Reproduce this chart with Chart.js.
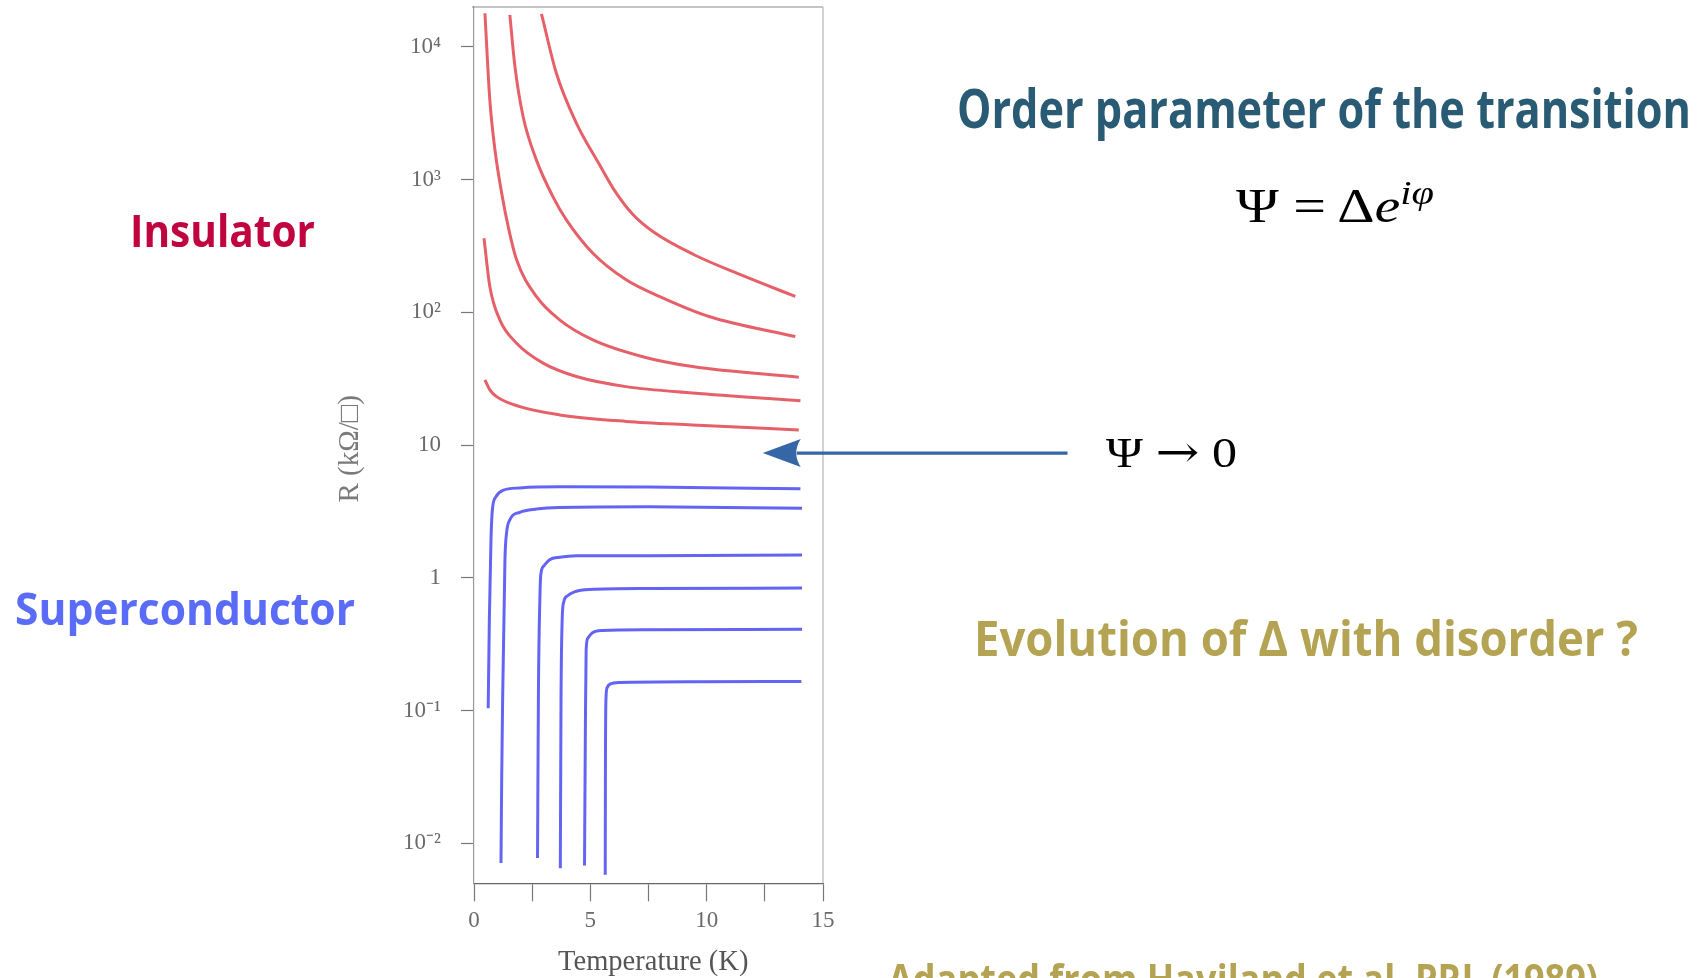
<!DOCTYPE html>
<html>
<head>
<meta charset="utf-8">
<script src="https://cdn.jsdelivr.net/npm/chart.js@4.4.1/dist/chart.umd.min.js"></script>
<style>
  html, body { margin: 0; padding: 0; background: #ffffff; overflow: hidden; }
  body { width: 1703px; height: 978px; position: relative; }
  #rtChart { position: absolute; left: 0; top: 0; }
  .txt { position: absolute; white-space: nowrap; line-height: 1; transform-origin: 0 0; }
  .head { font-family: "Open Sans", sans-serif; font-weight: 700; }
  .math { font-family: "Liberation Serif", serif; color: #000000; }
  .math sup { font-size: 0.7em; vertical-align: 0.55em; line-height: 0; }
  .arrow { font-family: "DejaVu Serif", serif; font-size: 1.05em; }
</style>
</head>
<body>
<canvas id="rtChart" width="1703" height="978"></canvas>

<div class="txt head" id="insulator" style="left:130px; top:207px; font-size:45px; color:#c0043f;">Insulator</div>
<div class="txt head" id="superconductor" style="left:15px; top:585px; font-size:45px; color:#5a6cf7;">Superconductor</div>
<div class="txt head" id="orderTitle" style="left:957px; top:81px; font-size:53px; color:#2a5b74;">Order parameter of the transition</div>
<div class="txt math" id="psiDef" style="left:1236px; top:182px; font-size:48px;">Ψ = Δ<i>e</i><sup><i>iφ</i></sup></div>
<div class="txt math" id="psiZero" style="left:1106px; top:430px; font-size:42px;">Ψ <span class="arrow">→</span> 0</div>
<div class="txt head" id="evolution" style="left:974px; top:613px; font-size:49px; color:#b4a352;">Evolution of Δ with disorder ?</div>
<div class="txt head" id="source" style="left:888px; top:958px; font-size:41px; color:#b4a352;">Adapted from Haviland et al. PRL (1989)</div>

<script>
// R(T) curves of thin films, temperature in K, sheet resistance in kOhm
const insulator1 = [[2.90, 17740], [3.54, 6340], [4.40, 2670], [5.39, 1300], [6.00, 850], [6.81, 552], [7.75, 400], [9.46, 272], [11.53, 190], [13.81, 132]];
const insulator2 = [[1.54, 17460], [1.76, 7110], [2.11, 2990], [2.68, 1410], [3.39, 746], [3.97, 498], [5.11, 279], [6.54, 176], [7.96, 132], [10.10, 93.1], [13.81, 65.8]];
const insulator3 = [[0.47, 17950], [0.68, 3990], [0.90, 1680], [1.19, 791], [1.50, 419], [1.83, 249], [2.68, 132], [3.68, 87.9], [5.11, 62.1], [7.25, 46.4], [9.39, 39.1], [13.96, 32.5]];
const insulator4 = [[0.43, 362], [0.68, 157], [1.11, 87.9], [1.83, 58.6], [2.97, 41.5], [4.40, 32.9], [6.54, 27.6], [9.39, 24.7], [14.03, 21.6]];
const insulator5 = [[0.47, 31.0], [0.68, 26.1], [0.97, 23.2], [1.97, 19.5], [3.68, 16.9], [6.54, 15.1], [9.39, 14.2], [13.96, 13.0]];

const superconductor1 = [[0.61, 0.104], [0.66, 0.483], [0.73, 1.94], [0.79, 3.26], [0.94, 4.08], [1.24, 4.56], [1.97, 4.76], [3.68, 4.85], [7.53, 4.83], [14.03, 4.69]];
const superconductor2 = [[1.16, 0.0071], [1.19, 0.0301], [1.23, 0.1205], [1.33, 1.37], [1.40, 2.18], [1.54, 2.74], [1.97, 3.12], [2.68, 3.30], [3.68, 3.39], [7.53, 3.43], [14.10, 3.35]];
const superconductor3 = [[2.73, 0.00774], [2.77, 0.1436], [2.83, 0.684], [2.87, 1.055], [3.00, 1.23], [3.25, 1.37], [3.68, 1.43], [4.40, 1.47], [7.53, 1.47], [14.10, 1.49]];
const superconductor4 = [[3.71, 0.0065], [3.74, 0.1205], [3.79, 0.483], [3.85, 0.649], [4.02, 0.733], [4.32, 0.785], [4.97, 0.817], [7.53, 0.831], [14.10, 0.838]];
const superconductor5 = [[4.75, 0.0068], [4.79, 0.0853], [4.82, 0.287], [4.90, 0.353], [5.09, 0.386], [5.52, 0.401], [7.53, 0.406], [14.10, 0.411]];
const superconductor6 = [[5.64, 0.0058], [5.65, 0.0426], [5.67, 0.1205], [5.72, 0.1486], [5.86, 0.159], [6.25, 0.163], [9.67, 0.165], [14.07, 0.1656]];

// axis ticks
const xTickValues = [0, 2.5, 5, 7.5, 10, 12.5, 15];
const xTickLabels = ["0", "", "5", "", "10", "", "15"];
const yTickValues = [0.01, 0.1, 1, 10, 100, 1000, 10000];
const yTickLabels = ["10⁻²", "10⁻¹", "1", "10", "10²", "10³", "10⁴"];

// Psi -> 0 arrow: tip and tail as [T, R]
const arrowTip = [12.41, 8.71];
const arrowTail = [25.51, 8.71];

const RED = "#e6606a";
const BLUE = "#6464f4";

function curve(points, color) {
  return {
    data: points.map(p => ({ x: p[0], y: p[1] })),
    borderColor: color,
    borderWidth: 3,
    showLine: true,
    pointRadius: 0,
    cubicInterpolationMode: "monotone",
  };
}

// top and right edges of the plot box
const framePlugin = {
  id: "frame",
  beforeDatasetsDraw(chart) {
    const { ctx, chartArea: a } = chart;
    ctx.save();
    ctx.lineWidth = 1.2;
    ctx.strokeStyle = "#8a8a8a";
    ctx.beginPath();
    ctx.moveTo(a.left - 2, a.top);
    ctx.lineTo(a.right, a.top);
    ctx.stroke();
    ctx.strokeStyle = "#b5b5b5";
    ctx.beginPath();
    ctx.moveTo(a.right, a.top);
    ctx.lineTo(a.right, a.bottom);
    ctx.stroke();
    ctx.restore();
  },
};

// arrow pointing at the critical resistance
const arrowPlugin = {
  id: "psiArrow",
  afterDraw(chart) {
    const { ctx, scales: { x, y } } = chart;
    const tipX = x.getPixelForValue(arrowTip[0]);
    const tipY = y.getPixelForValue(arrowTip[1]);
    const tailX = x.getPixelForValue(arrowTail[0]);
    const headLen = 38, headHalf = 14;
    ctx.save();
    ctx.strokeStyle = "#3566a6";
    ctx.fillStyle = "#3566a6";
    ctx.lineWidth = 3.3;
    ctx.beginPath();
    ctx.moveTo(tailX, tipY);
    ctx.lineTo(tipX + headLen - 4, tipY);
    ctx.stroke();
    ctx.beginPath();
    ctx.moveTo(tipX, tipY);
    ctx.lineTo(tipX + headLen, tipY - headHalf);
    ctx.quadraticCurveTo(tipX + headLen - 9, tipY, tipX + headLen, tipY + headHalf);
    ctx.closePath();
    ctx.fill();
    ctx.restore();
  },
};

const ctx = document.getElementById("rtChart").getContext("2d");
window.rtChart = new Chart(ctx, {
  type: "scatter",
  data: {
    datasets: [
      curve(insulator1, RED),
      curve(insulator2, RED),
      curve(insulator3, RED),
      curve(insulator4, RED),
      curve(insulator5, RED),
      curve(superconductor1, BLUE),
      curve(superconductor2, BLUE),
      curve(superconductor3, BLUE),
      curve(superconductor4, BLUE),
      curve(superconductor5, BLUE),
      curve(superconductor6, BLUE),
    ],
  },
  options: {
    responsive: false,
    animation: false,
    layout: {
      padding: { left: 333, right: 880, top: 7, bottom: 0 },
    },
    scales: {
      x: {
        type: "linear",
        min: 0,
        max: 15,
        afterBuildTicks: (scale) => {
          scale.ticks = xTickValues.map(v => ({ value: v }));
        },
        afterFit: (scale) => {
          scale.height = 94.7;
          scale.paddingLeft = 0;
          scale.paddingRight = 0;
        },
        grid: {
          drawOnChartArea: false,
          drawTicks: true,
          tickLength: 18,
          tickWidth: 1.2,
          color: "#777777",
        },
        border: { display: true, color: "#666666", width: 1.3 },
        ticks: {
          autoSkip: false,
          maxRotation: 0,
          padding: 6,
          color: "#6a6a6a",
          font: { family: "'Liberation Serif', serif", size: 23 },
          callback: (value, index) => xTickLabels[index],
        },
        title: {
          display: true,
          text: " \u200ATemperature (K)",
          color: "#555555",
          padding: { top: 0, bottom: -2 },
          font: { family: "'Liberation Serif', serif", size: 28.5 },
        },
      },
      y: {
        type: "logarithmic",
        min: 0.005,
        max: 20000,
        afterBuildTicks: (scale) => {
          scale.ticks = yTickValues.map(v => ({ value: v }));
        },
        afterFit: (scale) => {
          scale.width = 141;
          scale.paddingTop = 0;
          scale.paddingBottom = 0;
        },
        grid: {
          drawOnChartArea: false,
          drawTicks: true,
          tickLength: 13,
          tickWidth: 1.2,
          color: "#777777",
        },
        border: { display: true, color: "#9a9a9a", width: 1.2 },
        ticks: {
          autoSkip: false,
          padding: 20,
          color: "#6a6a6a",
          font: { family: "'Liberation Serif', serif", size: 23 },
          callback: (value, index) => yTickLabels[index],
        },
        title: {
          display: true,
          text: "R (kΩ/□) ",
          color: "#7a7a7a",
          padding: 0,
          font: { family: "'Liberation Serif', serif", size: 29 },
        },
      },
    },
    plugins: {
      legend: { display: false },
      tooltip: { enabled: false },
    },
  },
  plugins: [framePlugin, arrowPlugin],
});

// stretch the slide texts to their widths
function fitWidth(id, width) {
  const el = document.getElementById(id);
  const w = el.getBoundingClientRect().width;
  el.style.transform = "scaleX(" + (width / w) + ")";
}
fitWidth("insulator", 185);
fitWidth("superconductor", 340);
fitWidth("orderTitle", 734);
fitWidth("psiDef", 198);
fitWidth("psiZero", 131);
fitWidth("evolution", 664);
fitWidth("source", 710);
</script>
</body>
</html>
